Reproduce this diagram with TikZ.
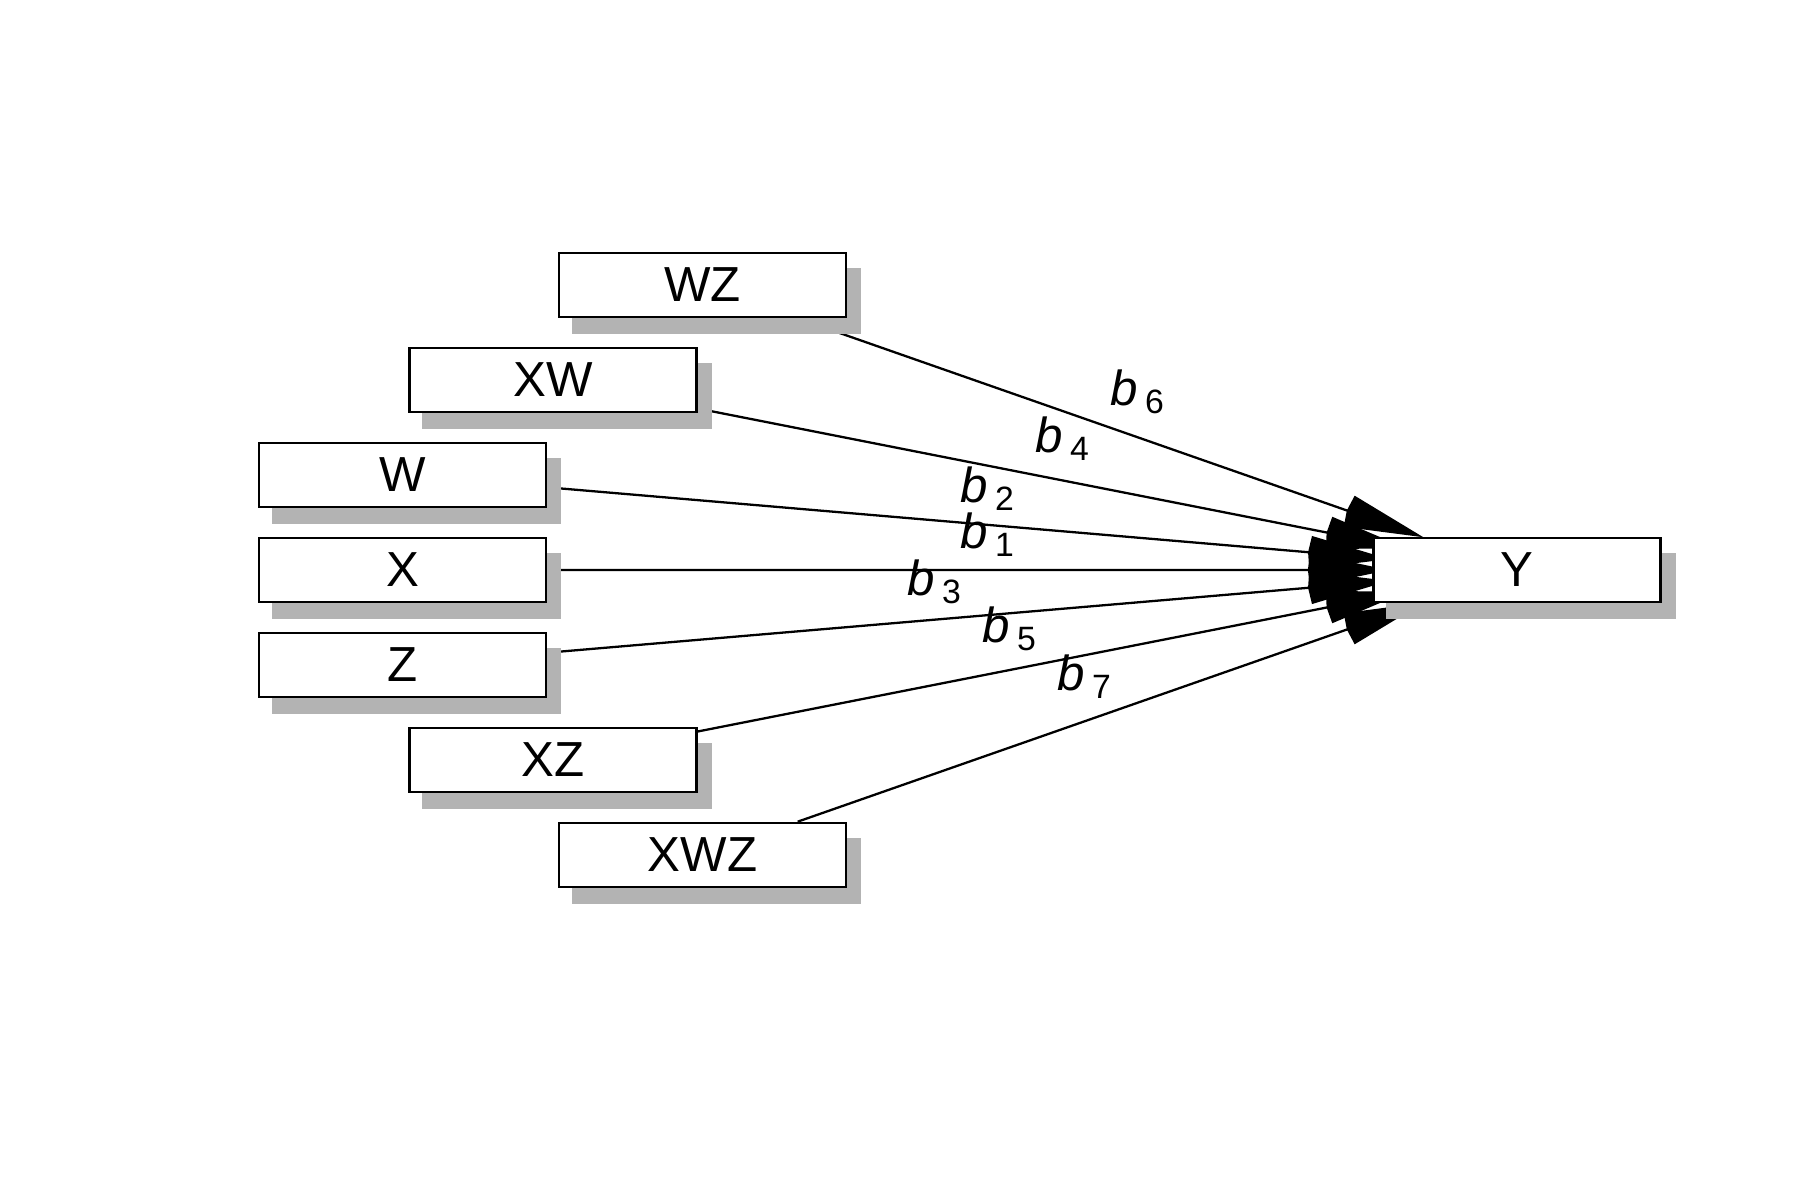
\documentclass[tikz,border=0pt]{standalone}
\usepackage{fontspec}
\setmainfont{Liberation Sans}
\usetikzlibrary{arrows.meta,calc}
\pgfdeclarelayer{linelayer}
\pgfdeclarelayer{shadowlayer}
\pgfsetlayers{linelayer,shadowlayer,main}
\definecolor{shadowc}{HTML}{B3B3B3}
\newcommand{\blab}[1]{\textit{b}\hspace{2.0pt}\raisebox{-2.3pt}{\fontsize{9.6}{10}\selectfont #1}}
\begin{document}
\begin{tikzpicture}[x=0.01cm,y=-0.01cm,
  varbox/.style={draw=black,fill=white,line width=0.75pt,minimum width=2.87cm,minimum height=0.64cm,inner sep=0pt,font=\fontsize{14}{16}\selectfont},
  pathlink/.style={draw=black,line width=0.65pt,-{Kite[length=8.1mm,width=3.3mm,inset=0.25mm]}},
  coef/.style={anchor=base west,inner sep=0pt,font=\fontsize{14}{16}\selectfont},
  shadowbox/.style={fill=shadowc}]
\useasboundingbox (0,0) rectangle (1800,1200);
\node[varbox] (WZ)  at (702.5,285) {WZ};
\node[varbox] (XW)  at (553,380)   {XW};
\node[varbox] (W)   at (402.5,475) {W};
\node[varbox] (X)   at (402.5,570) {X};
\node[varbox] (Z)   at (402.5,665) {Z};
\node[varbox] (XZ)  at (553,760)   {XZ};
\node[varbox] (XWZ) at (702.5,855) {XWZ};
\node[varbox] (Y)   at (1517,570)  {Y};
\begin{pgfonlayer}{shadowlayer}
\foreach \n in {WZ,XW,W,X,Z,XZ,XWZ,Y}
  \fill[shadowbox] ([shift={(14,16)}]\n.south west) rectangle ([shift={(14,16)}]\n.north east);
\end{pgfonlayer}
\begin{pgfonlayer}{linelayer}
\foreach \n in {WZ,XW,W,X,Z,XZ,XWZ}
  \draw[pathlink] (\n) -- ($(\n)!0.885!(Y)$);
\end{pgfonlayer}
\node[coef] (b6) at (1110,405) {\blab{6}};
\node[coef] (b4) at (1035,452) {\blab{4}};
\node[coef] (b2) at (960,502)  {\blab{2}};
\node[coef] (b1) at (960,548)  {\blab{1}};
\node[coef] (b3) at (907,595)  {\blab{3}};
\node[coef] (b5) at (982,642)  {\blab{5}};
\node[coef] (b7) at (1057,690) {\blab{7}};
\end{tikzpicture}
\end{document}
